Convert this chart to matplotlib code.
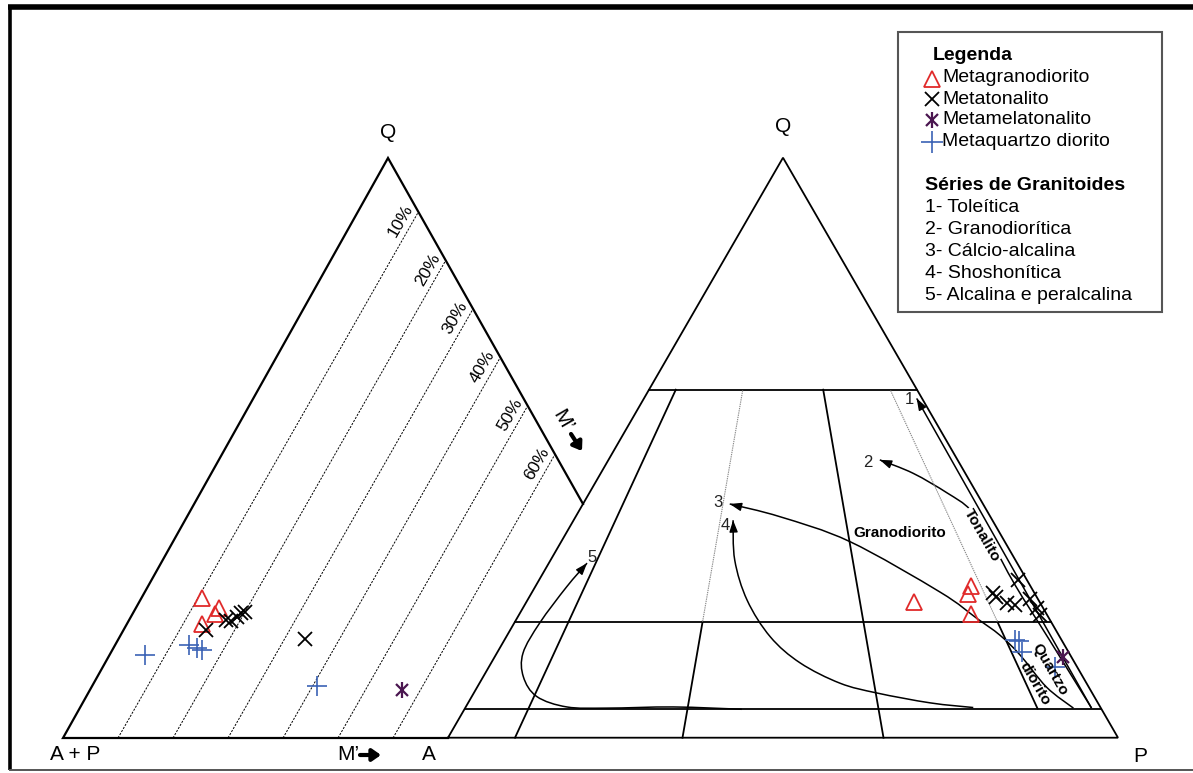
import numpy as np
import matplotlib
matplotlib.use("Agg")
import matplotlib.pyplot as plt
from matplotlib.path import Path
from matplotlib.patches import PathPatch, Rectangle

plt.rcParams["font.family"] = ["Liberation Sans", "DejaVu Sans"]

# ---------------------------------------------------------------- data
# Q-(A+P)-M' diagram: Q % and M' %
lq_granodiorito = [24.1, 22.4, 21.3, 19.6]
lm_granodiorito = [10.8, 14.9, 14.8, 13.4]
lq_tonalito = [18.6, 20.3, 20.2, 20.9, 21.5, 21.8, 17.0]
lm_tonalito = [14.8, 17.5, 18.4, 19.0, 19.5, 20.0, 33.7]
lq_melatonalito = [8.2]
lm_melatonalito = [56.7]
lq_qzdiorito = [14.3, 16.0, 15.5, 15.2, 9.0]
lm_qzdiorito = [6.3, 13.3, 15.0, 16.1, 40.7]

# QAP diagram: Q % and P % (A = 100 - Q - P)
rq_granodiorito = [23.4, 26.2, 24.7, 21.3]
rp_granodiorito = [57.8, 65.0, 65.2, 67.4]
rq_tonalito = [27.2, 24.9, 24.3, 23.2, 22.9, 24.0, 22.3, 21.2]
rp_tonalito = [71.5, 68.9, 69.7, 71.8, 73.2, 74.9, 76.7, 77.8]
rq_qzdiorito = [16.8, 16.7, 14.7, 12.2]
rp_qzdiorito = [76.2, 76.8, 78.3, 84.5]
rq_melatonalito = [14.0]
rp_melatonalito = [84.8]

mprime_grid = [10, 20, 30, 40, 50, 60]

# trend lines of the granitoid series, (Q %, P %) waypoints, arrow at the last one
trend_1 = [(5.1, 93.5), (58.5, 40.7)]
trend_2 = [(5.1, 93.5), (16.8, 81.4), (26.3, 71.5), (34.1, 63.9), (39.3, 58.3),
           (42.2, 53.4), (45.6, 46.6), (47.9, 40.5)]
trend_3 = [(5.1, 90.8), (8.7, 85.0), (14.3, 78.2), (17.7, 73.5), (20.6, 68.6),
           (25.1, 60.9), (33.8, 43.1), (38.1, 30.5), (40.3, 21.9)]
trend_4 = [(5.2, 75.8), (6.0, 69.0), (7.7, 60.2), (9.4, 53.8), (12.9, 46.1),
           (17.4, 39.4), (23.7, 32.8), (30.6, 27.5), (37.5, 23.8)]
trend_5 = [(4.9, 41.4), (5.3, 31.0), (5.1, 21.2), (5.3, 15.1), (7.1, 9.7),
           (10.5, 6.0), (14.6, 3.9), (19.8, 3.8), (26.0, 4.7), (30.1, 5.7)]

# ---------------------------------------------------------------- figure
W, H = 1193, 773
fig = plt.figure(figsize=(W / 100, H / 100), dpi=100)
ax = fig.add_axes([0, 0, 1, 1])
ax.set_xlim(0, W)
ax.set_ylim(H, 0)
ax.axis("off")

# frame of the panel
ax.plot([8, W], [7, 7], color="black", lw=4.0, solid_capstyle="butt")
ax.plot([10, 10], [7, 770], color="black", lw=2.6, solid_capstyle="butt")
ax.plot([10, W], [770, 770], color="#555555", lw=1.4)

# ---------------------------------------------------------------- left diagram geometry
L_BASE_Y, L_X0 = 738.0, 63.0
L_APEX = (388.0, 158.0)
L_SLOPE = 0.571          # dx per unit rise of the constant-M' lines
L_MSCALE = 5.5           # px per M' percent along the base
L_QSCALE = 5.8           # px per Q percent
R_EDGE_SLOPE = 0.5637    # right edge of the left triangle


def left_xy(q, m):
    q = np.asarray(q, float)
    m = np.asarray(m, float)
    y = L_BASE_Y - L_QSCALE * q
    x = L_X0 + L_MSCALE * m + L_SLOPE * (L_BASE_Y - y)
    return x, y


# ---------------------------------------------------------------- right diagram geometry
R_AX, R_BASE_Y, R_SIDE, R_H = 448.0, 737.7, 670.0, 580.0


def right_xy(q, p):
    q = np.asarray(q, float) / 100
    p = np.asarray(p, float) / 100
    return R_AX + R_SIDE * (p + q / 2), R_BASE_Y - R_H * q


def ratio_xy(q, r):
    """point at Q % on the line P/(A+P) = r"""
    q = np.asarray(q, float) / 100
    return R_AX + R_SIDE * ((1 - q) * r + q / 2), R_BASE_Y - R_H * q


LW = 1.3
# outer QAP triangle
tx, ty = right_xy([0, 0, 100, 0], [0, 100, 0, 0])
ax.plot(tx, ty, color="black", lw=LW, solid_joinstyle="miter")

# left triangle: base, left side and the right side down to the QAP triangle
k_left = R_SIDE / 2 / R_H
y_meet = (R_AX + k_left * R_BASE_Y - L_APEX[0] + R_EDGE_SLOPE * L_APEX[1]) / (R_EDGE_SLOPE + k_left)
x_meet = L_APEX[0] + R_EDGE_SLOPE * (y_meet - L_APEX[1])
ax.plot([R_AX, L_X0, L_APEX[0], x_meet], [L_BASE_Y, L_BASE_Y, L_APEX[1], y_meet],
        color="black", lw=LW + 0.3, solid_joinstyle="miter")

# constant-M' dashed lines with labels
for m in mprime_grid:
    x0 = L_X0 + L_MSCALE * m
    ye = (x0 + L_SLOPE * L_BASE_Y - L_APEX[0] + R_EDGE_SLOPE * L_APEX[1]) / (L_SLOPE + R_EDGE_SLOPE)
    xe = x0 + L_SLOPE * (L_BASE_Y - ye)
    ax.plot([x0, xe], [L_BASE_Y, ye], color="black", lw=0.7, ls=(0, (2.2, 1.4)))
    ax.text(xe - 18, ye + 9, f"{m}%", rotation=60, fontsize=12.5, ha="center", va="center",
            rotation_mode="anchor")

# QAP field boundaries
for qv in (60, 20, 5):
    xl, yl = ratio_xy(qv, 0.0)
    xr, yr = ratio_xy(qv, 1.0)
    ax.plot([xl, xr], [yl, yr], color="black", lw=LW)

for r, solid, grey in ((0.10, (0, 60), None), (0.35, (0, 20), (20, 60)),
                       (0.65, (0, 60), None), (0.90, (5, 20), (20, 60))):
    xs, ys = ratio_xy(solid, r)
    ax.plot(xs, ys, color="black", lw=LW)
    if grey:
        xs, ys = ratio_xy(grey, r)
        ax.plot(xs, ys, color="#8a8a8a", lw=0.8, ls=(0, (1.2, 0.8)))


# ---------------------------------------------------------------- trend curves
def smooth_path(pts):
    pts = np.asarray(pts, float)
    n = len(pts)
    verts = [pts[0]]
    codes = [Path.MOVETO]
    for i in range(n - 1):
        p0 = pts[i - 1] if i > 0 else pts[i]
        p1, p2 = pts[i], pts[i + 1]
        p3 = pts[i + 2] if i + 2 < n else pts[i + 1]
        c1 = p1 + (p2 - p0) / 6
        c2 = p2 - (p3 - p1) / 6
        verts += [c1, c2, p2]
        codes += [Path.CURVE4] * 3
    return Path(verts, codes)


for trend in (trend_1, trend_2, trend_3, trend_4, trend_5):
    qs, ps = zip(*trend)
    xs, ys = right_xy(qs, ps)
    pts = np.column_stack([xs, ys])
    ax.add_patch(PathPatch(smooth_path(pts), fill=False, color="black", lw=1.1))
    d = pts[-1] - pts[-2]
    d = d / np.hypot(*d)
    ax.annotate("", xy=pts[-1], xytext=pts[-1] - 9 * d,
                arrowprops=dict(arrowstyle="-|>,head_length=0.7,head_width=0.25",
                                color="black", lw=1.0, shrinkA=0, shrinkB=0))

# trend numbers
num_kw = dict(fontsize=12, color="#222222", ha="center", va="center")
for label, (qv, pv), (dx, dy) in (("1", trend_1[-1], (-7, 1)), ("2", trend_2[-1], (-12, 3)),
                                  ("3", trend_3[-1], (-12, -1)), ("4", trend_4[-1], (-8, 5)),
                                  ("5", trend_5[-1], (5, -6))):
    x, y = right_xy(qv, pv)
    ax.text(x + dx, y + dy, label, **num_kw)

# field names
name_kw = dict(fontsize=11, fontweight="bold", ha="center", va="center")
ax.text(900, 533, "Granodiorito", **name_kw)
ax.text(982, 535, "Tonalito", rotation=-60,
        bbox=dict(boxstyle="square,pad=0.05", fc="white", ec="none"), **name_kw)
ax.text(1050, 670, "Quartzo", rotation=-60, **name_kw)
ax.text(1035, 684, "diorito", rotation=-60, **name_kw)

# ---------------------------------------------------------------- samples
RED, BLUE, PURPLE = "#e02a2a", "#3b62b5", "#4a1650"
style = {
    "granodiorito": dict(marker="^", ms=12, mfc="none", mec=RED, mew=1.3, ls="none"),
    "tonalito": dict(marker="x", ms=10, color="black", mew=1.3, ls="none"),
    "qzdiorito": dict(marker="+", ms=15, color=BLUE, mew=1.2, ls="none"),
}


def melatonalito(x, y):
    ax.plot(x, y, ls="none", marker="x", ms=9, color=PURPLE, mew=1.6)
    ax.plot(x, y, ls="none", marker="|", ms=12, color=PURPLE, mew=1.6)


ax.plot(*left_xy(lq_granodiorito, lm_granodiorito), **style["granodiorito"])
ax.plot(*left_xy(lq_tonalito, lm_tonalito), **style["tonalito"])
ax.plot(*left_xy(lq_qzdiorito, lm_qzdiorito), **style["qzdiorito"])
melatonalito(*left_xy(lq_melatonalito, lm_melatonalito))

ax.plot(*right_xy(rq_granodiorito, rp_granodiorito), **style["granodiorito"])
ax.plot(*right_xy(rq_tonalito, rp_tonalito), **style["tonalito"])
ax.plot(*right_xy(rq_qzdiorito, rp_qzdiorito), **style["qzdiorito"])
melatonalito(*right_xy(rq_melatonalito, rp_melatonalito))

# ---------------------------------------------------------------- vertex labels
lab = dict(fontsize=15, ha="center", va="center")
ax.text(L_APEX[0], 132, "Q", **lab)
ax.text(783, 127, "Q", **lab)
ax.text(75, 755, "A + P", **lab)
ax.text(429, 755, "A", **lab)
ax.text(1140, 757, "P", **lab)
ax.text(348, 754, "M’", **lab)
ax.annotate("", xy=(381, 755), xytext=(360, 755),
            arrowprops=dict(arrowstyle="-|>,head_length=0.5,head_width=0.35", color="black",
                            lw=3.0, shrinkA=0, shrinkB=0))
ax.text(563, 421, "M’", rotation=-60, **lab)
ax.annotate("", xy=(582, 451), xytext=(571, 434),
            arrowprops=dict(arrowstyle="-|>,head_length=0.5,head_width=0.35", color="black",
                            lw=3.0, shrinkA=0, shrinkB=0))

# ---------------------------------------------------------------- legend box
ax.add_patch(Rectangle((898, 32), 264, 280, fill=False, ec="#555555", lw=1.5))
ax.text(933, 55, "Legenda", fontsize=14, fontweight="bold", va="center")
leg_y = [78, 99, 120, 142]
leg_names = ["Metagranodiorito", "Metatonalito", "Metamelatonalito", "Metaquartzo diorito"]
ax.plot(932, leg_y[0] + 1, marker="^", ms=12, mfc="none", mec=RED, mew=1.3)
ax.plot(932, leg_y[1], marker="x", ms=10, color="black", mew=1.3)
melatonalito(932, leg_y[2])
ax.plot(932, leg_y[3], marker="+", ms=16, color=BLUE, mew=1.2)
for yv, name in zip(leg_y, leg_names):
    ax.text(942, yv, name, fontsize=14, va="center")

ax.text(925, 185, "Séries de Granitoides", fontsize=14, fontweight="bold", va="center")
series = ["1- Toleítica", "2- Granodiorítica", "3- Cálcio-alcalina", "4- Shoshonítica",
          "5- Alcalina e peralcalina"]
for i, s in enumerate(series):
    ax.text(925, 208 + 22 * i, s, fontsize=14, va="center")

fig.savefig("out.png", dpi=100, facecolor="white")
